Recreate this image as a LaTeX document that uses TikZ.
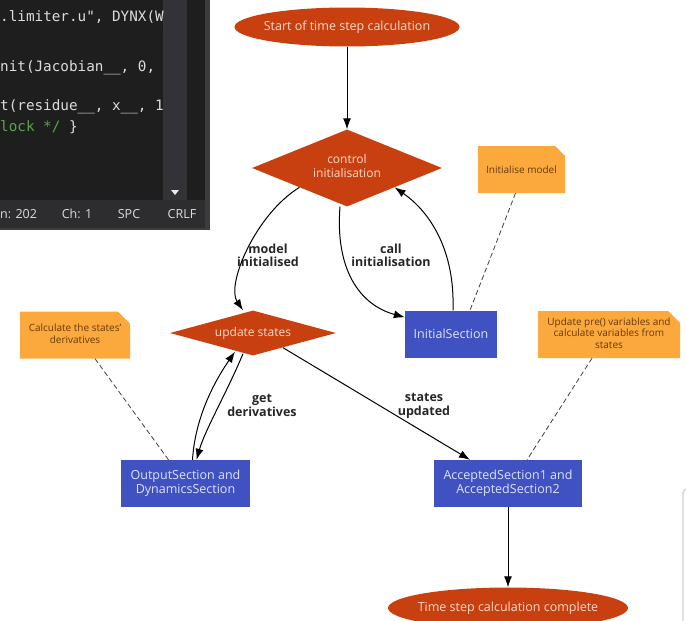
\documentclass[tikz,border=0pt]{standalone}
\usepackage{fontspec}
\setmainfont{Open Sans}
\newfontfamily\codefont{DejaVu Sans Mono}
\usetikzlibrary{positioning,shapes.geometric,shapes.misc,arrows.meta}

\begin{document}
\begin{tikzpicture}[x=1pt, y=-1pt, >={Latex[length=11pt,width=8pt]}]
       \definecolor{orangered}{HTML}{C8400F}
       \definecolor{peach}{HTML}{F8DCCB}
       \definecolor{sectionblue}{HTML}{4052C2}
       \definecolor{paleblue}{HTML}{DDE2F7}
       \definecolor{noteorange}{HTML}{FBA83D}
       \definecolor{notebrown}{HTML}{6B3A0A}
       \definecolor{editorbg}{HTML}{1E1E1E}
       \definecolor{editorbar}{HTML}{333337}
       \definecolor{editorstatus}{HTML}{2D2D30}
       \definecolor{editorborder}{HTML}{3C3C3C}
       \definecolor{codetext}{HTML}{DCDCDC}
       \definecolor{codegreen}{HTML}{57A64A}
       \definecolor{framegray}{HTML}{D0D0D0}
       \newcommand{\nodename}[1]{\begin{tabular}{@{}c@{}}#1\end{tabular}}
       \tikzstyle{terminal}  = [ellipse, fill = orangered, text = peach, inner xsep = -24pt, inner ysep = -4pt, minimum width = 225pt, minimum height = 39pt, font = \fontsize{12.5}{14}\selectfont]
       \tikzstyle{decision}  = [diamond, fill = orangered, text = peach, inner sep = -6pt, font = \fontsize{12}{14}\selectfont]
       \tikzstyle{section}   = [rectangle, fill = sectionblue, text = paleblue, inner sep = 0pt, minimum height = 47pt, font = \fontsize{12.5}{14.5}\selectfont]
       \tikzstyle{note}      = [chamfered rectangle, chamfered rectangle corners = north east, chamfered rectangle xsep = 6pt, chamfered rectangle ysep = 6pt, fill = noteorange, text = notebrown, inner sep = 0pt, minimum height = 47pt, font = \fontsize{10}{11.5}\selectfont]
       \tikzstyle{edgelabel} = [inner sep = 0pt, text = black!85, font = \bfseries\fontsize{12.5}{13}\selectfont]
       \tikzstyle{connector} = [line width = 1pt, ->]
       \tikzstyle{notelink}  = [line width = 0.8pt, black!75, dash pattern = on 5pt off 3pt]
       \tikzstyle{codeline}  = [anchor = west, inner sep = 0pt, text = codetext, font = \codefont\fontsize{14.3}{16}\selectfont]
       \tikzstyle{statusitem}= [inner sep = 0pt, text = codetext, font = \fontsize{12.5}{14}\selectfont]

       \useasboundingbox (0,0) rectangle (686,621);

       % editor window
       \fill [editorborder] (0,0) rectangle (210,230);
       \fill [editorbg] (0,0) rectangle (205,200);
       \fill [editorbar] (163,0) rectangle (187,200);
       \fill [editorstatus] (0,200) rectangle (205,228);
       \fill [codetext!60] (171,190) -- (179,190) -- (175,195) -- cycle;
       \begin{scope}
         \clip (0,0) rectangle (163,200);
         \node [codeline] (code1) at (-8.6,18)  {".limiter.u", DYNX(W\_};
         \node [codeline] (code2) at (0,68)     {nit(Jacobian\_\_, 0, (};
         \node [codeline] (code3) at (0,107)    {t(residue\_\_, x\_\_, 1};
         \node [codeline] (code4) at (0,127)    {\textcolor{codegreen}{lock */} \}};
       \end{scope}
       \node [statusitem, anchor = west] (statusln) at (0,214)   {n: 202};
       \node [statusitem] (statusch)  at (77,214)  {Ch: 1};
       \node [statusitem] (statusspc) at (129,214) {SPC};
       \node [statusitem] (statuscr)  at (182,214) {CRLF};
       \draw [framegray, line width = 1.2pt, rounded corners = 4pt] (683,625) -- (683,489) -- (692,489);

       \node [terminal] (start) at (347,27) {Start of time step calculation};
       \node [decision, minimum width = 190pt, minimum height = 77pt, aspect = 2.5] (control) at (347,168) {\nodename{control\\initialisation}};
       \node [decision, minimum width = 166pt, minimum height = 45pt, aspect = 3.7] (update) at (253,333) {update states};
       \node [section, minimum width = 92pt] (initial) at (451,334) {InitialSection};
       \node [section, minimum width = 129pt] (output) at (185.5,483.5) {\nodename{OutputSection and\\DynamicsSection}};
       \node [section, minimum width = 148pt] (accepted) at (508,483.5) {\nodename{AcceptedSection1 and\\AcceptedSection2}};
       \node [terminal, minimum width = 240pt, minimum height = 41pt] (finish) at (508,608) {Time step calculation complete};

       \node [note, minimum width = 87pt] (noteinit) at (521.5,169.5) {Initialise model};
       \node [note, minimum width = 110pt] (notederiv) at (75,335) {\nodename{Calculate the states'\\derivatives}};
       \node [note, minimum width = 142pt] (noteupdate) at (609,334.5) {\nodename{Update pre() variables and\\calculate variables from\\states}};

       \node [edgelabel] (lblmodel)  at (268,257) {\nodename{model\\initialised}};
       \node [edgelabel] (lblcall)   at (391,257) {\nodename{call\\initialisation}};
       \node [edgelabel] (lblget)    at (262,407) {\nodename{get\\derivatives}};
       \node [edgelabel] (lblstates) at (424,406) {\nodename{states\\updated}};

       \draw [connector] (start) -- (control);
       \draw [connector] (control.south west) .. controls (255,215) and (226,285) .. ([xshift=-10pt]update.north);
       \draw [connector] ([xshift=-7pt]control.south) .. controls (335,270) and (360,305) .. ([yshift=-7pt]initial.north west);
       \draw [connector] ([xshift=2pt]initial.north) .. controls (455,250) and (430,212) .. (control.south east);
       \draw [connector] ([xshift=7pt]output.north) .. controls (195,420) and (212,385) .. ([xshift=-18pt,yshift=4pt]update.south);
       \draw [connector] ([xshift=-10pt,yshift=2pt]update.south) .. controls (228,390) and (205,430) .. ([xshift=11pt]output.north);
       \draw [connector] ([xshift=30pt,yshift=8pt]update.south) -- ([xshift=-38pt]accepted.north);
       \draw [connector] (accepted) -- (finish);

       \draw [notelink] ([xshift=-6pt]noteinit.south) -- ([xshift=19pt]initial.north);
       \draw [notelink] ([xshift=20pt]notederiv.south) -- ([xshift=-17pt]output.north);
       \draw [notelink] ([xshift=-17pt]noteupdate.south) -- ([xshift=19pt]accepted.north);
     \end{tikzpicture}
\end{document}
